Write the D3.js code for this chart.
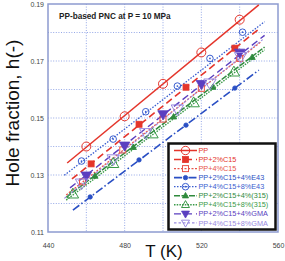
<!DOCTYPE html>
<html>
<head>
<meta charset="utf-8">
<script src="https://cdn.jsdelivr.net/npm/d3@7"></script>
<style>
  body { margin: 0; background: #fff; }
  svg { display: block; font-family: "Liberation Sans", Arial, sans-serif; }
</style>
</head>
<body>
<div id="chart"></div>
<script>
// axis ticks
const xTicks = [440, 480, 520, 560];
const yTicks = [0.11, 0.13, 0.15, 0.17, 0.19];
const xGrid = [460, 480, 500, 520, 540];
const yGrid = [0.12, 0.13, 0.14, 0.15, 0.16, 0.17, 0.18];

// series names (legend order)
const names = ["PP", "PP+2%C15", "PP+4%C15", "PP+2%C15+4%E43", "PP+4%C15+8%E43",
  "PP+2%C15+4%(315)", "PP+4%C15+8%(315)", "PP+2%C15+4%GMA", "PP+4%C15+8%GMA"];

// measured points (T in K, hole fraction h)
const tPP = [460, 480, 500, 520, 540];
const hPP = [0.1400, 0.1506, 0.1620, 0.1730, 0.1845];
const t2C = [462.5, 487.5, 512, 537.5];
const h2C = [0.1339, 0.1478, 0.1608, 0.1745];
const t4C = [458, 479, 500, 520, 540];
const h4C = [0.1276, 0.1388, 0.1496, 0.1604, 0.1709];
const t2E = [462, 487.5, 512, 537.5];
const h2E = [0.1223, 0.1353, 0.1475, 0.1605];
const t4E = [457.5, 474, 491, 507.5, 524.5, 541.5];
const h4E = [0.1349, 0.1426, 0.1522, 0.1612, 0.1709, 0.1801];
const t2S = [464.5, 484.5, 505.5, 526, 546.5];
const h2S = [0.1296, 0.1397, 0.1504, 0.1608, 0.1713];
const t4S = [453, 474, 494.5, 516, 537];
const h4S = [0.1233, 0.1340, 0.1444, 0.1553, 0.1661];
const t2G = [460, 480, 500, 520, 540];
const h2G = [0.1298, 0.1403, 0.1513, 0.1619, 0.1729];
const t4G = [457.5, 474, 491, 507.5, 524.5, 540.5];
const h4G = [0.1271, 0.1356, 0.1448, 0.1531, 0.1622, 0.1715];

// fitted lines: [T start, T end], [h start, h end]
const fitT = [[450, 550], [452.5, 550], [449.5, 551], [453, 550], [448.5, 553],
  [449.5, 553], [449.5, 553], [451.5, 553], [448.5, 552]];
const fitH = [[0.1342, 0.1897], [0.1286, 0.1812], [0.1230, 0.1767], [0.1177, 0.1668], [0.1299, 0.1838],
  [0.1222, 0.1749], [0.1212, 0.1739], [0.1255, 0.1790], [0.1218, 0.1775]];

const pointsT = [tPP, t2C, t4C, t2E, t4E, t2S, t4S, t2G, t4G];
const pointsH = [hPP, h2C, h4C, h2E, h4E, h2S, h4S, h2G, h4G];

// look of each series
const colors = ["#e4352b", "#e4352b", "#e8544a", "#2a4fc4", "#3a5ed0", "#2f8a3c", "#3a9a48", "#5b3fc0", "#9a8ae0"];
const dashes = [null, "7,4", "2,1.5", "8,2.5,1.5,2.5", "1.5,1.5", "6,1.5", "1.5,1.2", "7,4", "2.5,2"];
const widths = [1.5, 1.6, 1.3, 1.6, 1.3, 1.5, 1.4, 1.4, 1.1];
const shapes = ["circle", "square", "square", "circle", "circle", "triangle", "triangle", "down", "down"];
const filled = [false, true, false, true, false, true, false, true, false];
const sizes = [4.5, 3, 3, 2.2, 3.3, 3.3, 6, 5.5, 6.5];

const W = 285, H = 261;
const m = { left: 48, right: 278, top: 4, bottom: 232 };

const x = d3.scaleLinear().domain([440, 560]).range([m.left, m.right]);
const y = d3.scaleLinear().domain([0.11, 0.19]).range([m.bottom, m.top]);

const svg = d3.select("#chart").append("svg")
  .attr("width", W).attr("height", H);

svg.append("defs").append("clipPath").attr("id", "plot")
  .append("rect")
  .attr("x", m.left).attr("y", m.top)
  .attr("width", m.right - m.left).attr("height", m.bottom - m.top);

// grid
const grid = svg.append("g").attr("stroke", "#4f6fd8").attr("stroke-width", 0.8)
  .attr("stroke-dasharray", "1,1.6").attr("opacity", 0.75);
grid.selectAll(".gx").data(xGrid).join("line")
  .attr("x1", d => x(d)).attr("x2", d => x(d))
  .attr("y1", m.top).attr("y2", m.bottom);
grid.selectAll(".gy").data(yGrid).join("line")
  .attr("y1", d => y(d)).attr("y2", d => y(d))
  .attr("x1", m.left).attr("x2", m.right);

// axes labels via d3 axes
const xAxis = svg.append("g")
  .attr("transform", `translate(0,${m.bottom})`)
  .call(d3.axisBottom(x).tickValues(xTicks).tickFormat(d3.format("d")).tickSize(0).tickPadding(11));
const yAxis = svg.append("g")
  .attr("transform", `translate(${m.left},0)`)
  .call(d3.axisLeft(y).tickValues(yTicks).tickFormat(d3.format(".2f")).tickSize(0).tickPadding(4));
[xAxis, yAxis].forEach(a => {
  a.select(".domain").remove();
  a.selectAll("text").attr("font-size", 7).attr("fill", "#444")
    .attr("font-family", "'Liberation Sans', Arial, sans-serif");
});

// frame
svg.append("rect")
  .attr("x", m.left).attr("y", m.top)
  .attr("width", m.right - m.left).attr("height", m.bottom - m.top)
  .attr("fill", "none").attr("stroke", "#8d9bd0").attr("stroke-width", 1.5);

// marker drawing
function drawMarker(g, i, cx, cy, s) {
  const fill = filled[i] ? colors[i] : "none";
  let el;
  if (shapes[i] === "circle") {
    el = g.append("circle").attr("cx", cx).attr("cy", cy).attr("r", s);
  } else if (shapes[i] === "square") {
    el = g.append("rect").attr("x", cx - s).attr("y", cy - s).attr("width", 2 * s).attr("height", 2 * s);
  } else if (shapes[i] === "triangle") {
    el = g.append("path").attr("d", `M${cx},${cy - s}L${cx + s * 0.95},${cy + s * 0.65}L${cx - s * 0.95},${cy + s * 0.65}Z`);
  } else {
    el = g.append("path").attr("d", `M${cx},${cy + s}L${cx + s * 0.95},${cy - s * 0.65}L${cx - s * 0.95},${cy - s * 0.65}Z`);
  }
  el.attr("fill", fill).attr("stroke", colors[i]).attr("stroke-width", filled[i] ? 0.8 : 1);
  // the open E43 circles have a dot in the middle
  if (i === 4) g.append("circle").attr("cx", cx).attr("cy", cy).attr("r", 0.9).attr("fill", colors[i]);
}

const plot = svg.append("g").attr("clip-path", "url(#plot)");
const line = d3.line().x(d => x(d[0])).y(d => y(d[1]));

names.forEach((name, i) => {
  plot.append("path")
    .datum(d3.zip(fitT[i], fitH[i]))
    .attr("d", line)
    .attr("fill", "none")
    .attr("stroke", colors[i])
    .attr("stroke-width", widths[i])
    .attr("stroke-dasharray", dashes[i]);
});
names.forEach((name, i) => {
  const g = plot.append("g");
  d3.zip(pointsT[i], pointsH[i]).forEach(p => drawMarker(g, i, x(p[0]), y(p[1]), sizes[i]));
});

// title
svg.append("text")
  .attr("x", 59).attr("y", 19)
  .attr("font-size", 8.2).attr("font-weight", "bold").attr("fill", "#222")
  .text("PP-based PNC at P = 10 MPa");

// legend
const lg = svg.append("g");
lg.append("rect")
  .attr("x", 168.5).attr("y", 143.5).attr("width", 107).attr("height", 86)
  .attr("fill", "#fff").attr("stroke", "#111").attr("stroke-width", 2.5);
names.forEach((name, i) => {
  const ly = 150.5 + i * 9.05;
  lg.append("line")
    .attr("x1", 174).attr("x2", 197).attr("y1", ly).attr("y2", ly)
    .attr("stroke", colors[i]).attr("stroke-width", widths[i])
    .attr("stroke-dasharray", dashes[i]);
  drawMarker(lg.append("g"), i, 185.5, ly, Math.min(sizes[i], 4.2));
  lg.append("text")
    .attr("x", 198.5).attr("y", ly).attr("dy", "0.36em")
    .attr("font-size", 7.3).attr("fill", colors[i])
    .text(name);
});

// axis titles
svg.append("text")
  .attr("transform", "translate(19,113) rotate(-90)")
  .attr("text-anchor", "middle")
  .attr("font-size", 19).attr("fill", "#111")
  .text("Hole fraction, h(-)");
svg.append("text")
  .attr("x", 164).attr("y", 257)
  .attr("text-anchor", "middle")
  .attr("font-size", 17).attr("fill", "#111")
  .text("T (K)");
</script>
</body>
</html>
